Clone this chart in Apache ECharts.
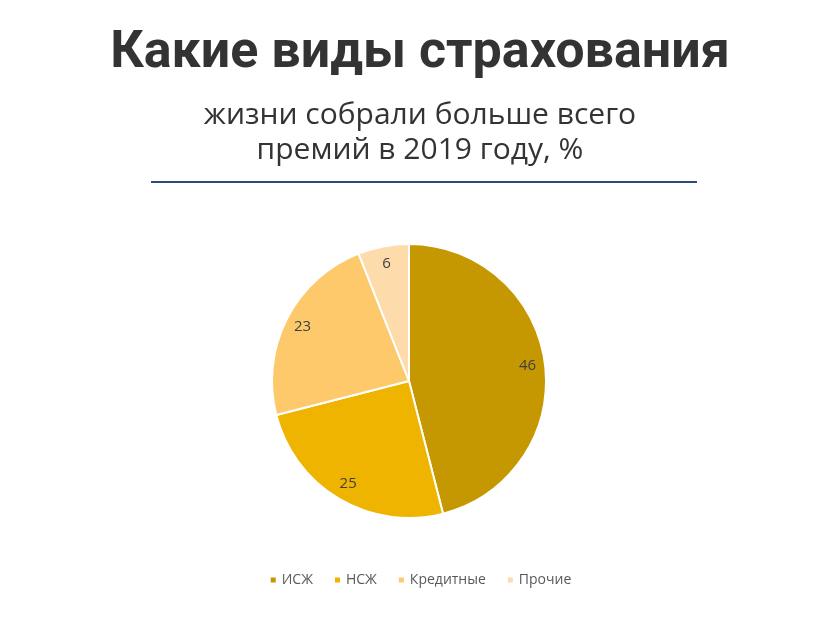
<!DOCTYPE html>
<html><head><meta charset="utf-8">
<script src="https://cdn.jsdelivr.net/npm/echarts@6/dist/echarts.min.js"></script>
<style>html,body{margin:0;padding:0;background:#fff}#c{width:840px;height:630px}</style>
</head><body><div id="c"></div>
<script>
const categories = ['ИСЖ', 'НСЖ', 'Кредитные', 'Прочие'];
const values = [46, 25, 23, 6];
const colors = ['#C59700', '#EFB400', '#FDC96B', '#FDDBAA'];

const data = categories.map((n, i) => ({ name: n, value: values[i], itemStyle: { color: colors[i] } }));
const chart = echarts.init(document.getElementById('c'));
chart.setOption({
  backgroundColor: '#fff',
  animation: false,
  title: [
    { text: 'Какие виды страхования', left: 'center', top: 23,
      textStyle: { fontFamily: 'Roboto', fontWeight: 'bold', fontSize: 52, color: '#333333' } },
    { text: 'жизни собрали больше всего\nпремий в 2019 году, %', left: 'center', top: 93,
      textStyle: { fontFamily: 'Open Sans', fontWeight: 'normal', fontSize: 30, lineHeight: 35, color: '#333333' } }
  ],
  graphic: [{ type: 'rect', shape: { x: 151, y: 181, width: 546, height: 2 }, style: { fill: '#2E4A7E' } }],
  legend: {
    data: categories, bottom: 38, left: 'center', itemWidth: 7, itemHeight: 7, itemGap: 20,
    icon: 'rect', textStyle: { fontFamily: 'Open Sans', fontSize: 14, color: '#595959' }
  },
  series: [
    { type: 'pie', center: [409, 381], radius: [0, 137], startAngle: 90, clockwise: true,
      data: data, label: { show: false }, labelLine: { show: false },
      itemStyle: { borderColor: '#fff', borderWidth: 2 }, emphasis: { disabled: true } },
    { type: 'pie', center: [409, 381], radius: [96, 137], startAngle: 90, clockwise: true, silent: true,
      data: data.map(d => ({ name: d.name, value: d.value, itemStyle: { color: 'rgba(0,0,0,0)' } })),
      label: { show: true, position: 'inside', formatter: '{c}', fontFamily: 'Open Sans', fontSize: 15, color: '#404040' },
      labelLine: { show: false }, emphasis: { disabled: true }, legendHoverLink: false }
  ]
});
</script></body></html>
